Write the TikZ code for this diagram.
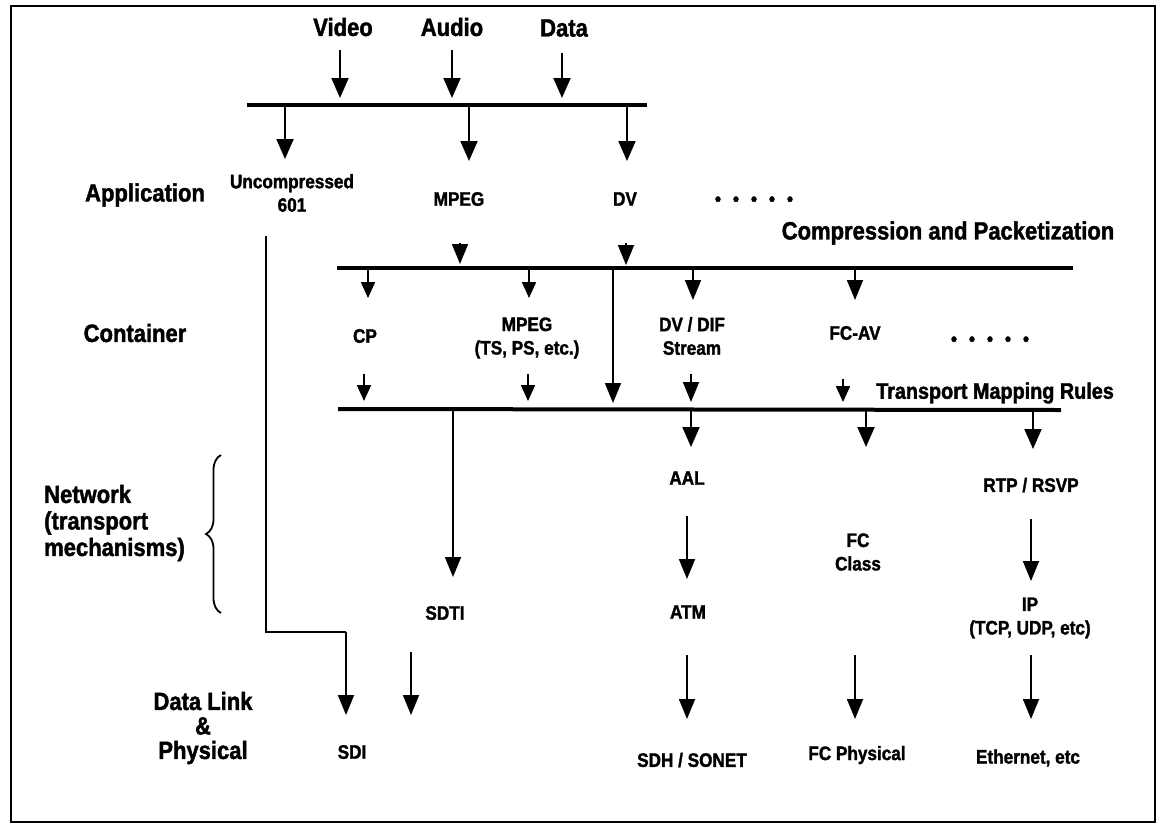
\documentclass[tikz,border=0pt]{standalone}
\usepackage{fontspec}
\setmainfont{Liberation Sans}[FakeStretch=0.88, BoldFeatures={FakeBold=1.6}]
\usetikzlibrary{arrows.meta,decorations.pathreplacing}
\tikzset{
  big/.style={font=\fontsize{25}{26.5}\selectfont\bfseries, inner sep=0pt, align=center},
  mid/.style={font=\fontsize{22.5}{24}\selectfont\bfseries, inner sep=0pt, align=center},
  small/.style={font=\fontsize{19.5}{23.5}\selectfont\bfseries, inner sep=0pt, align=center},
  bar/.style={line width=4pt},
  wire/.style={line width=1.8pt},
  arr/.style={line width=2pt, -{Triangle[width=17pt,length=20pt]}},
  marr/.style={line width=1.8pt, -{Triangle[width=16pt,length=20pt]}},
  sarr/.style={line width=2pt, -{Triangle[width=14pt,length=16pt]}},
}
\begin{document}
\begin{tikzpicture}[x=1pt,y=-1pt]
\useasboundingbox (0,0) rectangle (1161,825);
\draw[line width=1.8pt] (11,6) rectangle (1155,822);

% ---- level labels
\node[big] (application) at (145,195) {Application};
\node[big] (container) at (135,333) {Container};
\node[big, align=left, anchor=west] (network) at (44,523) {Network\\(transport\\mechanisms)};
\node[big, font=\fontsize{25}{24.5}\selectfont\bfseries] (datalink) at (203,728) {Data Link\\\&\\Physical};
\draw[wire, decorate, decoration={brace, amplitude=15pt}] (221,613) -- (221,455);

% ---- inputs
\node[big] (video) at (343,27) {Video};
\node[big] (audio) at (452,27) {Audio};
\node[big] (data) at (564,28) {Data};
\coordinate (b1l) at (247,105); \coordinate (b1r) at (647,105);
\draw[bar] (b1l) -- (b1r);
\coordinate (vS) at (340,50);  \coordinate (vE) at (340,98);
\coordinate (aS) at (452,50);  \coordinate (aE) at (452,98);
\coordinate (dS) at (562,53);  \coordinate (dE) at (562,98);
\draw[arr] (vS) -- (vE);
\draw[arr] (aS) -- (aE);
\draw[arr] (dS) -- (dE);

% ---- application level
\node[small] (uncomp) at (292,193) {Uncompressed\\601};
\node[small] (mpeg1) at (459,199) {MPEG};
\node[small] (dv1) at (625,199) {DV};
\node[small] (dots1) at (754,201) {•\hspace{12pt}•\hspace{12pt}•\hspace{12pt}•\hspace{12pt}•};
\coordinate (u1) at (285,107); \coordinate (u2) at (285,159);
\coordinate (m1) at (469,107); \coordinate (m2) at (469,161);
\coordinate (d1) at (627,107); \coordinate (d2) at (627,161);
\draw[arr] (u1) -- (u2);
\draw[arr] (m1) -- (m2);
\draw[arr] (d1) -- (d2);

\node[big] (comp) at (948,233) {Compression and Packetization};
\coordinate (b2l) at (337,268); \coordinate (b2r) at (1073,268);
\draw[bar] (b2l) -- (b2r);
\coordinate (i1) at (460,243); \coordinate (i1e) at (460,264);
\coordinate (i2) at (626,243); \coordinate (i2e) at (626,265);
\draw[marr] (i1) -- (i1e);
\draw[marr] (i2) -- (i2e);

% ---- container level
\node[small] (cp) at (365,336) {CP};
\node[small] (mpeg2) at (527,338) {MPEG\\(TS, PS, etc.)};
\node[small] (dvdif) at (692,336) {DV / DIF\\Stream};
\node[small] (fcav) at (855,333) {FC-AV};
\node[small] (dots2) at (990,341) {•\hspace{12pt}•\hspace{12pt}•\hspace{12pt}•\hspace{12pt}•};
\coordinate (c1) at (368,270); \coordinate (c1e) at (368,298);
\coordinate (c2) at (529,270); \coordinate (c2e) at (529,298);
\coordinate (c3) at (693,270); \coordinate (c3e) at (693,300);
\coordinate (c4) at (855,270); \coordinate (c4e) at (855,300);
\coordinate (lg) at (613,270); \coordinate (lge) at (613,403);
\draw[sarr] (c1) -- (c1e);
\draw[sarr] (c2) -- (c2e);
\draw[marr] (c3) -- (c3e);
\draw[marr] (c4) -- (c4e);
\draw[marr] (lg) -- (lge);

\coordinate (t1) at (364,374); \coordinate (t1e) at (364,401);
\coordinate (t2) at (528,374); \coordinate (t2e) at (528,401);
\coordinate (t3) at (691,374); \coordinate (t3e) at (691,402);
\coordinate (t4) at (843,379); \coordinate (t4e) at (843,402);
\draw[sarr] (t1) -- (t1e);
\draw[sarr] (t2) -- (t2e);
\draw[marr] (t3) -- (t3e);
\draw[sarr] (t4) -- (t4e);
\node[mid] (tmr) at (995,393) {Transport Mapping Rules};
\coordinate (b3l) at (338,409); \coordinate (b3r) at (1061,410);
\draw[bar] (b3l) -- (b3r);

% ---- network level
\node[small] (aal) at (687,478) {AAL};
\node[small] (rtp) at (1031,485) {RTP / RSVP};
\node[small] (fcclass) at (858,552) {FC\\Class};
\node[small] (sdti) at (445,613) {SDTI};
\node[small] (atm) at (688,612) {ATM};
\node[small] (ip) at (1030,618) {IP\\(TCP, UDP, etc)};
\coordinate (n1) at (691,411); \coordinate (n1e) at (691,447);
\coordinate (n2) at (866,411); \coordinate (n2e) at (866,447);
\coordinate (n3) at (1033,411); \coordinate (n3e) at (1033,449);
\coordinate (sd) at (453,411); \coordinate (sde) at (453,577);
\draw[arr] (n1) -- (n1e);
\draw[arr] (n2) -- (n2e);
\draw[arr] (n3) -- (n3e);
\draw[marr] (sd) -- (sde);
\coordinate (p1) at (687,516); \coordinate (p1e) at (687,579);
\coordinate (p2) at (1031,519); \coordinate (p2e) at (1031,581);
\draw[marr] (p1) -- (p1e);
\draw[marr] (p2) -- (p2e);

% ---- data link & physical
\node[small] (sdi) at (352,752) {SDI};
\node[small] (sdh) at (692,760) {SDH / SONET};
\node[small] (fcphy) at (857,755) {FC Physical};
\node[small] (eth) at (1028,758) {Ethernet, etc};
\coordinate (s0) at (266,236); \coordinate (s1) at (266,632);
\coordinate (s2) at (346,632); \coordinate (s3) at (346,715);
\draw[wire] (s0) -- (s1) -- (s2);
\draw[marr] (s2) -- (s3);
\coordinate (x1) at (411,652); \coordinate (x1e) at (411,715);
\draw[marr] (x1) -- (x1e);
\coordinate (q1) at (687,655); \coordinate (q1e) at (687,719);
\coordinate (q2) at (855,655); \coordinate (q2e) at (855,719);
\coordinate (q3) at (1031,655); \coordinate (q3e) at (1031,719);
\draw[marr] (q1) -- (q1e);
\draw[marr] (q2) -- (q2e);
\draw[marr] (q3) -- (q3e);
\end{tikzpicture}
\end{document}
